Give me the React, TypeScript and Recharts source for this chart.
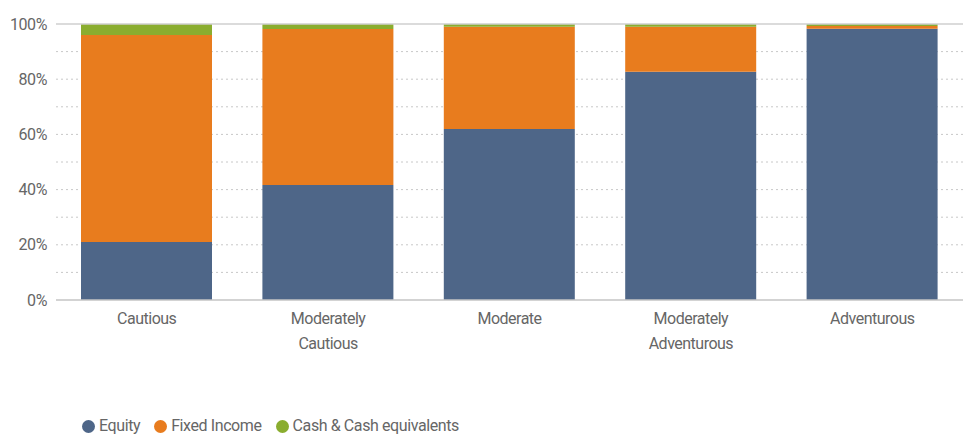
import React from "react";
import { BarChart, Bar, XAxis, YAxis, ReferenceLine, CartesianGrid } from "recharts";

const categories = ["Cautious", "Moderately Cautious", "Moderate", "Moderately Adventurous", "Adventurous"];
const equity = [21, 41.7, 62, 82.7, 98.3];
const fixedIncome = [75, 56.5, 37, 16.3, 1];
const cash = [4, 1.8, 1, 1, 0.7];
const yTicks = [0, 20, 40, 60, 80, 100];
const gridValues = [10, 20, 30, 40, 50, 60, 70, 80, 90];

const seriesNames = ["Equity", "Fixed Income", "Cash & Cash equivalents"];
const colors = ["#4e6688", "#e87c1e", "#8aad2f"];

const data = categories.map((c, i) => ({
  name: c,
  equity: equity[i],
  fixed: fixedIncome[i],
  cash: cash[i],
}));

const FONT = "Roboto, 'Liberation Sans Narrow', sans-serif";
const TEXT = "#666";

const XTick = (props: any) => {
  const { x, y, payload } = props;
  const words: string[] = String(payload.value).split(" ");
  return (
    <text x={x} y={y} textAnchor="middle" fill={TEXT} fontSize={16} fontFamily={FONT} letterSpacing={-0.5}>
      {words.map((w, i) => (
        <tspan key={i} x={x} dy={i === 0 ? 16 : 25}>
          {w}
        </tspan>
      ))}
    </text>
  );
};

const LegendBox = () => (
  <div
    style={{
      position: "absolute",
      left: 82,
      top: 418,
      display: "flex",
      alignItems: "center",
      fontFamily: FONT,
      fontSize: 16,
      letterSpacing: -0.4,
      color: TEXT,
      lineHeight: "16px",
    }}
  >
    {seriesNames.map((n, i) => (
      <div key={n} style={{ display: "flex", alignItems: "center", marginRight: 14 }}>
        <span
          style={{
            display: "inline-block",
            width: 13,
            height: 13,
            borderRadius: "50%",
            background: colors[i],
            marginRight: 4,
          }}
        />
        <span>{n}</span>
      </div>
    ))}
  </div>
);

export default function App() {
  return (
    <div style={{ position: "absolute", left: 0, top: 0, width: 963, height: 436, background: "#fff", overflow: "hidden" }}>
      <BarChart
        width={963}
        height={436}
        data={data}
        margin={{ top: 24, right: 0, left: 0, bottom: 76 }}
        barSize={131}
      >
        <CartesianGrid
          vertical={false}
          horizontalValues={gridValues}
          stroke="#c8c8c8"
          strokeDasharray="2 3"
        />
        <XAxis
          dataKey="name"
          tick={<XTick />}
          tickLine={false}
          axisLine={{ stroke: "#c4c4c4", strokeWidth: 1.5 }}
          interval={0}
          height={60}
        />
        <YAxis
          domain={[0, 100]}
          ticks={yTicks}
          tickFormatter={(v: number) => `${v}%`}
          tickLine={false}
          axisLine={false}
          tickSize={0}
          tickMargin={9}
          width={56}
          allowDataOverflow
          tick={{ fill: TEXT, fontSize: 16, fontFamily: FONT, letterSpacing: -0.4 }}
        />
        <Bar dataKey="equity" stackId="a" fill={colors[0]} isAnimationActive={false} />
        <Bar dataKey="fixed" stackId="a" fill={colors[1]} isAnimationActive={false} />
        <Bar dataKey="cash" stackId="a" fill={colors[2]} isAnimationActive={false} />
        <ReferenceLine y={100} stroke="#cfcfcf" strokeWidth={1.5} ifOverflow="visible" />
      </BarChart>
      <LegendBox />
    </div>
  );
}
